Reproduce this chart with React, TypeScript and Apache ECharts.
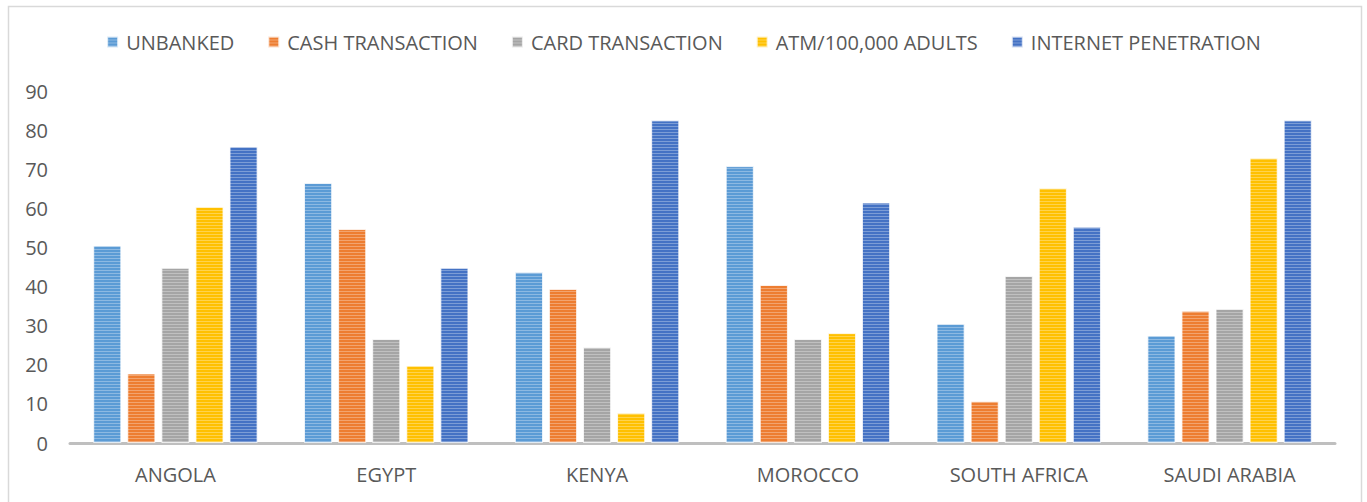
import React, { useEffect, useRef } from "react";
import * as echarts from "echarts";

const categories = ["ANGOLA", "EGYPT", "KENYA", "MOROCCO", "SOUTH AFRICA", "SAUDI ARABIA"];
const seriesNames = ["UNBANKED", "CASH TRANSACTION", "CARD TRANSACTION", "ATM/100,000 ADULTS", "INTERNET PENETRATION"];
const unbanked = [50.5, 66.5, 43.7, 70.8, 30.5, 27.5];
const cashTransaction = [17.8, 54.7, 39.4, 40.4, 10.7, 33.8];
const cardTransaction = [44.8, 26.6, 24.5, 26.6, 42.7, 34.3];
const atmPerAdults = [60.4, 19.8, 7.7, 28.1, 65.2, 72.9];
const internetPenetration = [75.8, 44.8, 82.5, 61.5, 55.3, 82.5];
const colors = ["#5B9BD5", "#ED7D31", "#A5A5A5", "#FFC000", "#4472C4"];
const yTicks = { min: 0, max: 90, interval: 10 };

const FONT = "'Open Sans', 'Noto Sans', sans-serif";

export default function App() {
  const ref = useRef<HTMLDivElement>(null);
  useEffect(() => {
    if (!ref.current) return;
    const chart = echarts.init(ref.current, undefined, { renderer: "svg" });
    const data = [unbanked, cashTransaction, cardTransaction, atmPerAdults, internetPenetration];
    chart.setOption({
      animation: false,
      backgroundColor: "#ffffff",
      graphic: [
        {
          type: "rect",
          shape: { x: 8.5, y: 6.5, width: 1353, height: 510 },
          style: { fill: "none", stroke: "#D9D9D9", lineWidth: 1.5 },
          silent: true,
        },
      ],
      legend: {
        top: 27,
        left: "center",
        icon: "rect",
        itemWidth: 11,
        itemHeight: 11,
        itemGap: 33,
        textStyle: { color: "#595959", fontSize: 20, fontFamily: FONT, padding: [0, 0, 0, 3] },
        data: seriesNames,
      },
      grid: { left: 70, right: 32, top: 91, bottom: 59, containLabel: false },
      xAxis: {
        type: "category",
        data: categories,
        axisLine: { show: true, lineStyle: { color: "#BFBFBF", width: 3 } },
        axisTick: { show: false },
        axisLabel: { color: "#595959", fontSize: 20, fontFamily: FONT, margin: 21 },
        splitLine: { show: false },
      },
      yAxis: {
        type: "value",
        min: yTicks.min,
        max: yTicks.max,
        interval: yTicks.interval,
        axisLine: { show: false },
        axisTick: { show: false },
        splitLine: { show: false },
        axisLabel: { color: "#595959", fontSize: 20, fontFamily: FONT, margin: 22 },
      },
      series: seriesNames.map((name, i) => ({
        name,
        type: "bar",
        data: data[i],
        barGap: "21%",
        barCategoryGap: "22%",
        itemStyle: {
          color: colors[i],
          borderColor: "rgba(255,255,255,0.5)",
          borderWidth: 1,
          decal: {
            symbol: "rect",
            symbolSize: 1,
            dashArrayX: [[1, 0]],
            dashArrayY: [1, 2],
            rotation: 0,
            color: "rgba(255,255,255,0.3)",
          },
        },
      })),
    });
    return () => chart.dispose();
  }, []);
  return (
    <div
      ref={ref}
      style={{ position: "fixed", left: 0, top: 0, width: 1367, height: 502 }}
    />
  );
}
